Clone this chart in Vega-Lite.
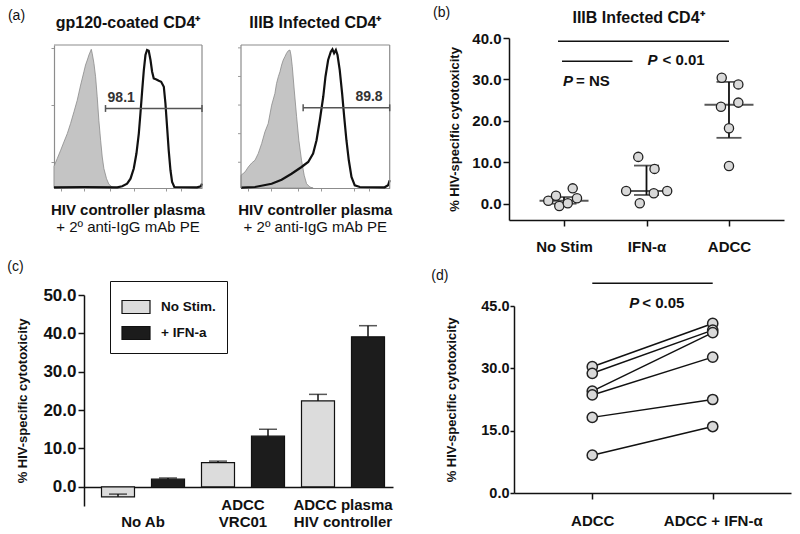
{
  "$schema": "https://vega.github.io/schema/vega-lite/v6.json",
  "background": "white",
  "padding": {"left": 7, "top": 6, "right": 8, "bottom": 4},
  "autosize": {"type": "pad"},
  "config": {
    "font": "Liberation Sans",
    "view": {"stroke": null},
    "axis": {"grid": false, "domainColor": "#111", "tickColor": "#111", "domainWidth": 1.5, "tickWidth": 1.5, "labelColor": "#111", "labelFontWeight": "bold", "titleColor": "#111", "titleFontWeight": "bold", "titleFontSize": 13, "labelOverlap": false, "labelFlush": false, "labelFont": "Liberation Sans", "titleFont": "Liberation Sans"},
    "text": {"font": "Liberation Sans", "color": "#111"}
  },
  "datasets": {
    "a1_neg": [{"x":0,"y":15.2},{"x":2.2,"y":20.6},{"x":4.5,"y":26.4},{"x":6.7,"y":32.2},{"x":9.0,"y":38.1},{"x":11.2,"y":45.1},{"x":13.5,"y":53.3},{"x":15.7,"y":61.4},{"x":18.0,"y":72.0},{"x":20.2,"y":81.3},{"x":21.3,"y":86.0},{"x":22.5,"y":89.5},{"x":23.6,"y":93.0},{"x":25.2,"y":97.0},{"x":25.8,"y":94.2},{"x":27.0,"y":87.1},{"x":28.1,"y":77.8},{"x":29.2,"y":63.8},{"x":30.3,"y":47.4},{"x":31.5,"y":33.4},{"x":32.6,"y":21.7},{"x":33.7,"y":13.6},{"x":35.5,"y":6.5},{"x":37.1,"y":2.6},{"x":39.3,"y":0.7},{"x":41.6,"y":0}],
    "a1_pos": [{"x":0,"y":0.5},{"x":20.2,"y":0.7},{"x":42.7,"y":0.5},{"x":46.1,"y":1.2},{"x":49.4,"y":3.0},{"x":51.7,"y":6.5},{"x":53.9,"y":13.6},{"x":55.7,"y":24.1},{"x":57.3,"y":38.1},{"x":58.4,"y":52.1},{"x":59.6,"y":68.5},{"x":60.7,"y":82.5},{"x":61.8,"y":93.0},{"x":62.9,"y":96.5},{"x":64.0,"y":96.0},{"x":65.2,"y":89.5},{"x":66.3,"y":81.3},{"x":67.4,"y":76.6},{"x":69.2,"y":75.9},{"x":70.8,"y":75.0},{"x":72.4,"y":74.3},{"x":74.2,"y":70.8},{"x":75.3,"y":59.1},{"x":76.4,"y":42.8},{"x":77.5,"y":26.4},{"x":78.7,"y":12.4},{"x":79.8,"y":4.2},{"x":81.3,"y":0.7},{"x":96.6,"y":0.5},{"x":99.3,"y":1.2},{"x":100,"y":3.0}],
    "a2_neg": [{"x":0,"y":8.9},{"x":2.7,"y":11.2},{"x":4.9,"y":14.7},{"x":7.2,"y":17.5},{"x":9.4,"y":19.4},{"x":11.6,"y":24.1},{"x":13.9,"y":31.1},{"x":16.1,"y":39.3},{"x":18.3,"y":45.1},{"x":20.6,"y":57.9},{"x":22.8,"y":66.1},{"x":23.9,"y":73.1},{"x":25.1,"y":77.8},{"x":26.2,"y":81.3},{"x":27.3,"y":86.0},{"x":28.4,"y":89.5},{"x":29.5,"y":91.8},{"x":30.6,"y":94.2},{"x":31.8,"y":96.0},{"x":32.9,"y":96.5},{"x":33.6,"y":93.0},{"x":34.5,"y":84.8},{"x":35.8,"y":68.5},{"x":37.4,"y":49.8},{"x":38.9,"y":33.4},{"x":40.7,"y":19.4},{"x":42.5,"y":8.9},{"x":44.1,"y":3.0},{"x":46.3,"y":0.7},{"x":48.5,"y":0}],
    "a2_pos": [{"x":0,"y":0.2},{"x":9.4,"y":0.7},{"x":20.6,"y":3.0},{"x":27.3,"y":5.8},{"x":34.0,"y":10.0},{"x":40.7,"y":14.7},{"x":45.2,"y":18.2},{"x":48.5,"y":24.1},{"x":50.8,"y":33.4},{"x":53.0,"y":47.4},{"x":55.3,"y":63.8},{"x":56.8,"y":77.8},{"x":58.6,"y":89.5},{"x":60.4,"y":95.3},{"x":61.5,"y":97.0},{"x":62.6,"y":94.2},{"x":63.8,"y":96.5},{"x":64.9,"y":93.0},{"x":66.4,"y":82.5},{"x":68.0,"y":66.1},{"x":69.4,"y":49.8},{"x":70.9,"y":33.4},{"x":72.5,"y":19.4},{"x":74.3,"y":7.7},{"x":76.5,"y":1.9},{"x":79.9,"y":0.7},{"x":96.6,"y":0.5},{"x":98.9,"y":1.9},{"x":100,"y":5.4}],
    "b_points": [
      {"group":"No Stim","value":0.7,"jitter":-1.43},{"group":"No Stim","value":1.9,"jitter":-0.73},{"group":"No Stim","value":-0.55,"jitter":-0.43},{"group":"No Stim","value":0.1,"jitter":0.34},{"group":"No Stim","value":3.7,"jitter":0.79},{"group":"No Stim","value":1.3,"jitter":1.18},
      {"group":"IFN-α","value":11.3,"jitter":-0.75},{"group":"IFN-α","value":8.4,"jitter":0.73},{"group":"IFN-α","value":3.05,"jitter":-1.85},{"group":"IFN-α","value":2.5,"jitter":0.66},{"group":"IFN-α","value":3.05,"jitter":1.88},{"group":"IFN-α","value":0.1,"jitter":-0.61},
      {"group":"ADCC","value":30.4,"jitter":-0.66},{"group":"ADCC","value":28.8,"jitter":0.85},{"group":"ADCC","value":23.4,"jitter":-0.73},{"group":"ADCC","value":24.4,"jitter":0.85},{"group":"ADCC","value":18.2,"jitter":0},{"group":"ADCC","value":9.1,"jitter":0}
    ],
    "b_summary": [
      {"group":"No Stim","median":0.7,"lo":0.0,"hi":1.6},
      {"group":"IFN-α","median":3.05,"lo":2.1,"hi":9.2},
      {"group":"ADCC","median":23.9,"lo":15.9,"hi":29.4}
    ],
    "c_bars": [
      {"treatment":"No Ab","condition":"No Stim.","value":-2.6,"err":-1.9},
      {"treatment":"No Ab","condition":"+ IFN-a","value":2.0,"err":2.3},
      {"treatment":"ADCC VRC01","condition":"No Stim.","value":6.3,"err":6.7},
      {"treatment":"ADCC VRC01","condition":"+ IFN-a","value":13.2,"err":15.0},
      {"treatment":"ADCC plasma HIV controller","condition":"No Stim.","value":22.4,"err":24.1},
      {"treatment":"ADCC plasma HIV controller","condition":"+ IFN-a","value":39.1,"err":42.0}
    ],
    "d_pairs": [
      {"donor":1,"condition":"ADCC","value":30.4},{"donor":1,"condition":"ADCC + IFN-α","value":40.8},
      {"donor":2,"condition":"ADCC","value":28.8},{"donor":2,"condition":"ADCC + IFN-α","value":39.2},
      {"donor":3,"condition":"ADCC","value":24.5},{"donor":3,"condition":"ADCC + IFN-α","value":38.6},
      {"donor":4,"condition":"ADCC","value":23.6},{"donor":4,"condition":"ADCC + IFN-α","value":32.7},
      {"donor":5,"condition":"ADCC","value":18.2},{"donor":5,"condition":"ADCC + IFN-α","value":22.5},
      {"donor":6,"condition":"ADCC","value":9.1},{"donor":6,"condition":"ADCC + IFN-α","value":16.0}
    ]
  },
  "columns": 2,
  "align": "each",
  "bounds": "flush",
  "spacing": 0,
  "concat": [
    {
      "width": 310, "height": 150,
      "resolve": {"scale": {"x": "independent"}, "axis": {"x": "independent"}},
      "layer": [
        {"layer": [
          {"data": {"name": "a1_neg"}, "mark": {"type": "area", "fill": "#c4c4c4", "stroke": "#8a8a8a", "strokeWidth": 0.8},
           "encoding": {
             "x": {"field": "x", "type": "quantitative", "scale": {"domain": [0, 100], "range": [-30, 118], "nice": false, "zero": false},
                   "axis": {"orient": "bottom", "title": null, "labels": false, "domain": true, "domainColor": "#8c8c8c", "domainWidth": 1.2, "tickSize": 3, "tickColor": "#999", "tickWidth": 1, "values": [5,12,16,18,20,22,24,26,38,46,50,52,54,56,58,70,76,80,82,84,86,88,92]}},
             "y": {"field": "y", "type": "quantitative", "scale": {"domain": [0, 100], "range": [150, 7], "nice": false, "zero": false},
                   "axis": {"title": null, "labels": false, "domain": true, "domainColor": "#8c8c8c", "domainWidth": 1.2, "tickSize": 3, "tickColor": "#999", "tickWidth": 1, "values": [18,38,58,78,98], "offset": 30}}
           }},
          {"data": {"name": "a1_pos"}, "mark": {"type": "line", "color": "#111", "strokeWidth": 2.2},
           "encoding": {"x": {"field": "x", "type": "quantitative"}, "y": {"field": "y", "type": "quantitative"}}},
          {"data": {"values": [{"a": 0, "b": 100, "y": 100, "p": "a1 top"}]}, "mark": {"type": "rule", "color": "#8c8c8c", "strokeWidth": 1.2},
           "encoding": {"x": {"field": "a", "type": "quantitative"}, "x2": {"field": "b"}, "y": {"field": "y", "type": "quantitative"}}},
          {"data": {"values": [{"g": 100, "p": "a1 right"}]}, "mark": {"type": "rule", "color": "#8c8c8c", "strokeWidth": 1.2},
           "encoding": {"x": {"field": "g", "type": "quantitative"}, "y": {"datum": 0}, "y2": {"datum": 100}}},
          {"data": {"values": [{"a": 34.8, "b": 100, "y": 55.6}]}, "mark": {"type": "rule", "color": "#555", "strokeWidth": 1.5},
           "encoding": {"x": {"field": "a", "type": "quantitative"}, "x2": {"field": "b"}, "y": {"field": "y", "type": "quantitative"}}},
          {"data": {"values": [{"g": 34.8}, {"g": 100}]}, "mark": {"type": "rule", "color": "#555", "strokeWidth": 1.5},
           "encoding": {"x": {"field": "g", "type": "quantitative"}, "y": {"datum": 53.2}, "y2": {"datum": 58.0}}},
          {"data": {"values": [{"t": "98.1"}]}, "mark": {"type": "text", "fontSize": 14, "fontWeight": "bold", "color": "#333"},
           "encoding": {"x": {"datum": 45.4}, "y": {"datum": 62.6}, "text": {"field": "t"}}},
          {"data": {"values": [{"t": "gp120-coated CD4⁺"}]}, "mark": {"type": "text", "fontSize": 16, "fontWeight": "bold", "dy": -22},
           "encoding": {"x": {"datum": 50}, "y": {"datum": 100}, "text": {"field": "t"}}},
          {"data": {"values": [{"t": "HIV controller plasma"}]}, "mark": {"type": "text", "fontSize": 15, "fontWeight": "bold", "dy": 22},
           "encoding": {"x": {"datum": 50}, "y": {"datum": 0}, "text": {"field": "t"}}},
          {"data": {"values": [{"t": "+ 2º anti-IgG mAb PE"}]}, "mark": {"type": "text", "fontSize": 15, "dy": 39},
           "encoding": {"x": {"datum": 50}, "y": {"datum": 0}, "text": {"field": "t"}}},
          {"data": {"values": [{"t": "(a)"}]}, "mark": {"type": "text", "fontSize": 14, "dx": -37.5, "dy": -29},
           "encoding": {"x": {"datum": 0}, "y": {"datum": 100}, "text": {"field": "t"}}}
        ]},
        {"layer": [
          {"data": {"name": "a2_neg"}, "mark": {"type": "area", "fill": "#c4c4c4", "stroke": "#8a8a8a", "strokeWidth": 0.8},
           "encoding": {
             "x": {"field": "x", "type": "quantitative", "scale": {"domain": [0, 100], "range": [157, 305.7], "nice": false, "zero": false},
                   "axis": {"orient": "bottom", "title": null, "labels": false, "domain": true, "domainColor": "#8c8c8c", "domainWidth": 1.2, "tickSize": 3, "tickColor": "#999", "tickWidth": 1, "values": [5,12,16,18,20,22,24,26,38,46,50,52,54,56,58,70,76,80,82,84,86,88,92]}},
             "y": {"field": "y", "type": "quantitative"}
           }},
          {"data": {"name": "a2_pos"}, "mark": {"type": "line", "color": "#111", "strokeWidth": 2.2},
           "encoding": {"x": {"field": "x", "type": "quantitative"}, "y": {"field": "y", "type": "quantitative"}}},
          {"data": {"values": [{"a": 0, "b": 100, "y": 100, "p": "a2 top"}]}, "mark": {"type": "rule", "color": "#8c8c8c", "strokeWidth": 1.2},
           "encoding": {"x": {"field": "a", "type": "quantitative"}, "x2": {"field": "b"}, "y": {"field": "y", "type": "quantitative"}}},
          {"data": {"values": [{"g": 0, "p": "a2 left"}, {"g": 100, "p": "a2 right"}]}, "mark": {"type": "rule", "color": "#8c8c8c", "strokeWidth": 1.2},
           "encoding": {"x": {"field": "g", "type": "quantitative"}, "y": {"datum": 0}, "y2": {"datum": 100}}},
          {"data": {"values": [{"ty": 18, "p": "a2 tick"}, {"ty": 38, "p": "a2 tick"}, {"ty": 58, "p": "a2 tick"}, {"ty": 78, "p": "a2 tick"}, {"ty": 98, "p": "a2 tick"}]}, "mark": {"type": "rule", "color": "#999", "strokeWidth": 1},
           "encoding": {"x": {"datum": 0, "type": "quantitative"}, "x2": {"datum": -2}, "y": {"field": "ty", "type": "quantitative"}}},
          {"data": {"values": [{"a": 41.8, "b": 100, "y": 56.1}]}, "mark": {"type": "rule", "color": "#555", "strokeWidth": 1.5},
           "encoding": {"x": {"field": "a", "type": "quantitative"}, "x2": {"field": "b"}, "y": {"field": "y", "type": "quantitative"}}},
          {"data": {"values": [{"g": 41.8}, {"g": 100}]}, "mark": {"type": "rule", "color": "#555", "strokeWidth": 1.5},
           "encoding": {"x": {"field": "g", "type": "quantitative"}, "y": {"datum": 53.7}, "y2": {"datum": 58.5}}},
          {"data": {"values": [{"t": "89.8"}]}, "mark": {"type": "text", "fontSize": 14, "fontWeight": "bold", "color": "#333"},
           "encoding": {"x": {"datum": 86.1}, "y": {"datum": 63.3}, "text": {"field": "t"}}},
          {"data": {"values": [{"t": "IIIB Infected CD4⁺"}]}, "mark": {"type": "text", "fontSize": 16, "fontWeight": "bold", "dy": -22},
           "encoding": {"x": {"datum": 50}, "y": {"datum": 100}, "text": {"field": "t"}}},
          {"data": {"values": [{"t": "HIV controller plasma"}]}, "mark": {"type": "text", "fontSize": 15, "fontWeight": "bold", "dy": 22},
           "encoding": {"x": {"datum": 50}, "y": {"datum": 0}, "text": {"field": "t"}}},
          {"data": {"values": [{"t": "+ 2º anti-IgG mAb PE"}]}, "mark": {"type": "text", "fontSize": 15, "dy": 39},
           "encoding": {"x": {"datum": 50}, "y": {"datum": 0}, "text": {"field": "t"}}}
        ]}
      ]
    },
    {
      "width": 277, "height": 182,
      "layer": [
        {"data": {"values": [{"from": "No Stim", "to": "ADCC", "y": 39.2}]}, "mark": {"type": "rule", "color": "#111", "strokeWidth": 1.5, "xOffset": -6},
         "encoding": {
           "x": {"field": "from", "type": "nominal", "scale": {"type": "point", "domain": ["No Stim", "IFN-α", "ADCC"], "padding": 0.667, "range": [-5, 270]},
                 "axis": {"title": null, "labelAngle": 0, "labelFontSize": 15, "tickSize": 6, "labelPadding": 13}},
           "x2": {"field": "to"},
           "y": {"field": "y", "type": "quantitative", "scale": {"domain": [-3.94, 40], "nice": false, "zero": false},
                 "axis": {"title": "% HIV-specific cytotoxicity", "values": [0, 10, 20, 30, 40], "format": ".1f", "labelFontSize": 15, "tickSize": 6, "titlePadding": 10, "offset": 5}}
         }},
        {"data": {"values": [{"from": "No Stim", "to": "IFN-α", "y": 34.4}]}, "mark": {"type": "rule", "color": "#111", "strokeWidth": 1.5, "xOffset": -2, "x2Offset": -14},
         "encoding": {"x": {"field": "from", "type": "nominal"}, "x2": {"field": "to"}, "y": {"field": "y", "type": "quantitative"}}},
        {"data": {"name": "b_summary"}, "mark": {"type": "rule", "color": "#111", "strokeWidth": 1.8},
         "encoding": {"x": {"field": "group", "type": "nominal"}, "y": {"field": "lo", "type": "quantitative"}, "y2": {"field": "hi"}}},
        {"data": {"name": "b_summary"}, "mark": {"type": "tick", "orient": "horizontal", "color": "#111", "size": 25, "thickness": 1.8},
         "encoding": {"x": {"field": "group", "type": "nominal"}, "y": {"field": "lo", "type": "quantitative"}}},
        {"data": {"name": "b_summary"}, "mark": {"type": "tick", "orient": "horizontal", "color": "#111", "size": 25, "thickness": 1.8},
         "encoding": {"x": {"field": "group", "type": "nominal"}, "y": {"field": "hi", "type": "quantitative"}}},
        {"data": {"name": "b_summary"}, "mark": {"type": "tick", "orient": "horizontal", "color": "#111", "size": 49, "thickness": 2},
         "encoding": {"x": {"field": "group", "type": "nominal"}, "y": {"field": "median", "type": "quantitative"}}},
        {"data": {"name": "b_points"}, "mark": {"type": "circle", "size": 85, "fill": "#d9d9d9", "stroke": "#222", "strokeWidth": 1.3, "opacity": 1},
         "encoding": {"x": {"field": "group", "type": "nominal"},
                      "xOffset": {"field": "jitter", "type": "quantitative", "scale": {"domain": [-2, 2], "range": [-22, 22]}},
                      "y": {"field": "value", "type": "quantitative"}}},
        {"data": {"values": [{"t": "IIIB Infected CD4⁺"}]}, "mark": {"type": "text", "fontSize": 16, "fontWeight": "bold", "dx": -8, "dy": -20},
         "encoding": {"x": {"datum": "IFN-α", "type": "nominal"}, "y": {"datum": 40}, "text": {"field": "t"}}},
        {"data": {"values": [{"t": "(b)"}]}, "mark": {"type": "text", "fontSize": 14, "align": "left", "dx": -131, "dy": -25},
         "encoding": {"x": {"datum": "No Stim", "type": "nominal"}, "y": {"datum": 40}, "text": {"field": "t"}}},
        {"data": {"values": [{"t": "P"}]}, "mark": {"type": "text", "fontSize": 15, "fontWeight": "bold", "fontStyle": "italic", "align": "left", "dx": 1},
         "encoding": {"x": {"datum": "IFN-α", "type": "nominal"}, "y": {"datum": 34.8}, "text": {"field": "t"}}},
        {"data": {"values": [{"t": "< 0.01"}]}, "mark": {"type": "text", "fontSize": 15, "fontWeight": "bold", "align": "left", "dx": 16},
         "encoding": {"x": {"datum": "IFN-α", "type": "nominal"}, "y": {"datum": 34.8}, "text": {"field": "t"}}},
        {"data": {"values": [{"t": "P"}]}, "mark": {"type": "text", "fontSize": 15, "fontWeight": "bold", "fontStyle": "italic", "align": "left", "dx": -1},
         "encoding": {"x": {"datum": "No Stim", "type": "nominal"}, "y": {"datum": 29.6}, "text": {"field": "t"}}},
        {"data": {"values": [{"t": "= NS"}]}, "mark": {"type": "text", "fontSize": 15, "fontWeight": "bold", "align": "left", "dx": 12},
         "encoding": {"x": {"datum": "No Stim", "type": "nominal"}, "y": {"datum": 29.6}, "text": {"field": "t"}}}
      ]
    },
    {
      "width": 430, "height": 267,
      "layer": [
        {"data": {"name": "c_bars"}, "mark": {"type": "bar", "stroke": "#111", "strokeWidth": 1.2},
         "encoding": {
           "x": {"field": "treatment", "type": "nominal", "sort": ["No Ab", "ADCC VRC01", "ADCC plasma HIV controller"],
                 "scale": {"domain": ["No Ab", "ADCC VRC01", "ADCC plasma HIV controller"], "range": [0, 309], "paddingInner": 0, "paddingOuter": 0.045, "align": 1},
                 "axis": {"title": null, "ticks": false, "labelAngle": 0, "labelFontSize": 15, "labelPadding": 10, "labelLineHeight": 17,
                          "labelExpr": "datum.value == 'No Ab' ? [' ', 'No Ab'] : datum.value == 'ADCC VRC01' ? ['ADCC', 'VRC01'] : ['ADCC plasma', 'HIV controller']"}},
           "xOffset": {"field": "condition", "type": "nominal", "scale": {"domain": ["No Stim.", "+ IFN-a"], "paddingInner": 0.34, "paddingOuter": 0.17}},
           "y": {"field": "value", "type": "quantitative", "scale": {"domain": [-5, 50], "range": [286, 75], "nice": false, "zero": false},
                 "axis": {"title": "% HIV-specific cytotoxicity", "values": [0, 10, 20, 30, 40, 50], "format": ".1f", "labelFontSize": 17, "tickSize": 6, "titlePadding": 13}},
           "y2": {"datum": 0},
           "color": {"field": "condition", "type": "nominal", "scale": {"domain": ["No Stim.", "+ IFN-a"], "range": ["#dcdcdc", "#1c1c1c"]},
                     "legend": {"orient": "none", "legendX": 26, "legendY": 243, "title": null, "strokeColor": "#111", "padding": 11,
                                "symbolType": "M-1,-0.464H1V0.464H-1Z", "symbolSize": 784, "symbolStrokeColor": "#111", "symbolStrokeWidth": 1.2,
                                "labelFontSize": 13.5, "labelFontWeight": "bold", "labelColor": "#111", "labelOffset": 10, "rowPadding": 2}}
         }},
        {"data": {"name": "c_bars"}, "mark": {"type": "rule", "color": "#111", "strokeWidth": 1.5},
         "encoding": {"x": {"field": "treatment", "type": "nominal"}, "xOffset": {"field": "condition", "type": "nominal"},
                      "y": {"field": "value", "type": "quantitative"}, "y2": {"field": "err"}}},
        {"data": {"name": "c_bars"}, "mark": {"type": "tick", "orient": "horizontal", "color": "#111", "size": 18, "thickness": 1.5},
         "encoding": {"x": {"field": "treatment", "type": "nominal"}, "xOffset": {"field": "condition", "type": "nominal"},
                      "y": {"field": "err", "type": "quantitative"}}},
        {"data": {"values": [{"t": "(c)"}]}, "mark": {"type": "text", "fontSize": 14, "dx": -127.5, "dy": -28},
         "encoding": {"x": {"datum": "No Ab", "type": "nominal"}, "y": {"datum": 50}, "text": {"field": "t"}}}
      ]
    },
    {
      "width": 277, "height": 273,
      "layer": [
        {"data": {"values": [{"from": "ADCC", "to": "ADCC + IFN-α", "y": 50.5}]}, "mark": {"type": "rule", "color": "#111", "strokeWidth": 1.5},
         "encoding": {
           "x": {"field": "from", "type": "nominal", "scale": {"type": "point", "domain": ["ADCC", "ADCC + IFN-α"], "padding": 0.65},
                 "axis": {"title": null, "labelAngle": 0, "labelFontSize": 15, "tickSize": 6, "labelPadding": 14}},
           "x2": {"field": "to"},
           "y": {"field": "y", "type": "quantitative", "scale": {"domain": [0, 45], "range": [273, 86], "nice": false, "zero": false},
                 "axis": {"title": "% HIV-specific cytotoxicity", "values": [0, 15, 30, 45], "format": ".1f", "labelFontSize": 14.5, "tickSize": 4, "labelPadding": 1, "titlePadding": 22}}
         }},
        {"data": {"name": "d_pairs"}, "mark": {"type": "line", "color": "#111", "strokeWidth": 1.5},
         "encoding": {"x": {"field": "condition", "type": "nominal"}, "y": {"field": "value", "type": "quantitative"}, "detail": {"field": "donor", "type": "nominal"}}},
        {"data": {"name": "d_pairs"}, "mark": {"type": "circle", "size": 105, "fill": "#d9d9d9", "stroke": "#222", "strokeWidth": 1.5, "opacity": 1},
         "encoding": {"x": {"field": "condition", "type": "nominal"}, "y": {"field": "value", "type": "quantitative"}}},
        {"data": {"values": [{"t": "P"}]}, "mark": {"type": "text", "fontSize": 15, "fontWeight": "bold", "fontStyle": "italic", "align": "left", "dx": 37},
         "encoding": {"x": {"datum": "ADCC", "type": "nominal"}, "y": {"datum": 45.7}, "text": {"field": "t"}}},
        {"data": {"values": [{"t": "< 0.05"}]}, "mark": {"type": "text", "fontSize": 15, "fontWeight": "bold", "align": "left", "dx": 50},
         "encoding": {"x": {"datum": "ADCC", "type": "nominal"}, "y": {"datum": 45.7}, "text": {"field": "t"}}},
        {"data": {"values": [{"t": "(d)"}]}, "mark": {"type": "text", "fontSize": 14, "dx": -152.5, "dy": -30.5},
         "encoding": {"x": {"datum": "ADCC", "type": "nominal"}, "y": {"datum": 45}, "text": {"field": "t"}}}
      ]
    }
  ]
}
